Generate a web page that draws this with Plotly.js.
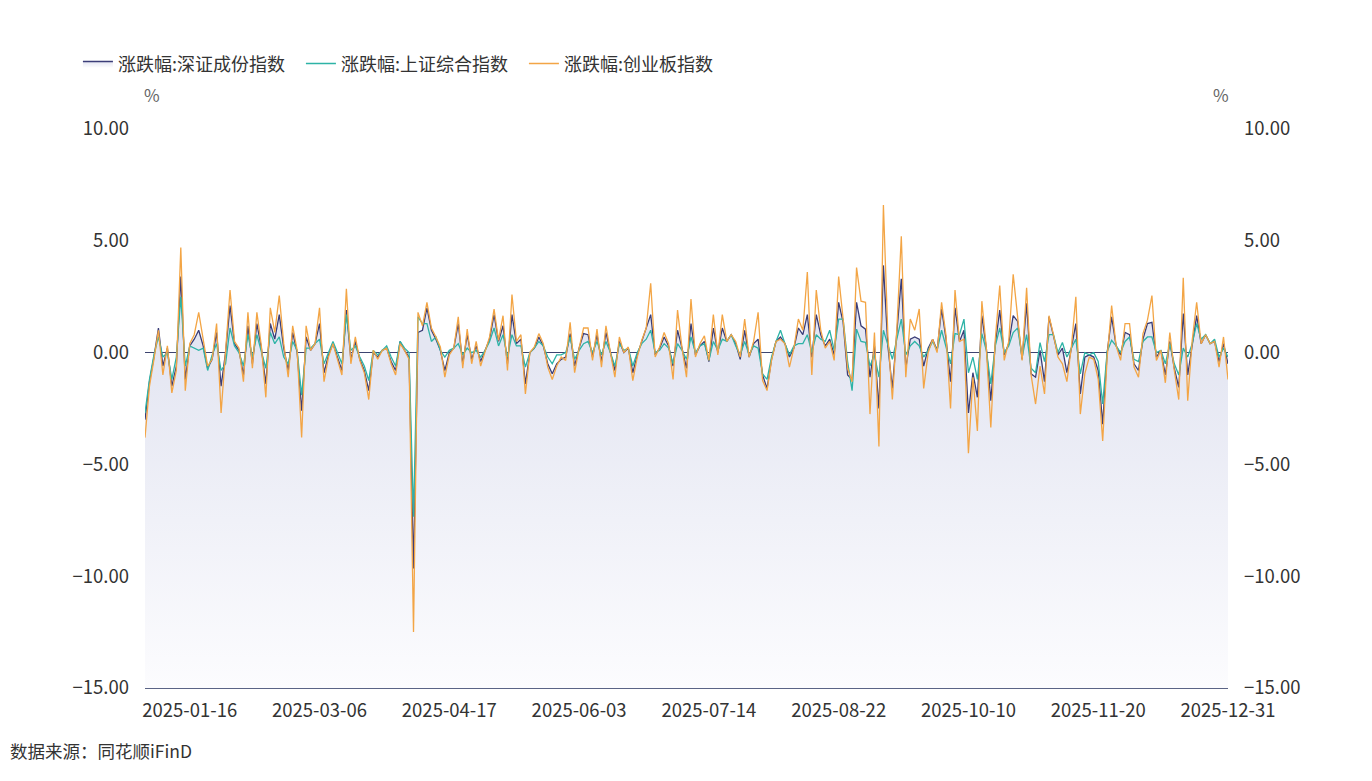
<!DOCTYPE html>
<html>
<head>
<meta charset="utf-8">
<script src="https://cdn.plot.ly/plotly-3.0.1.min.js"></script>
<style>html,body{margin:0;padding:0;background:#fff;}#chart{width:1372px;height:781px;}</style>
</head>
<body>
<div id="chart"></div>
<script>
// Non-trading weekdays of 2025 (exchange holidays)
const holidays = ['2025-01-01','2025-01-28','2025-01-29','2025-01-30','2025-01-31','2025-02-03','2025-02-04',
  '2025-04-04','2025-05-01','2025-05-02','2025-05-05','2025-06-02',
  '2025-10-01','2025-10-02','2025-10-03','2025-10-06','2025-10-07','2025-10-08'];

const tickDates = ['2025-01-16','2025-03-06','2025-04-17','2025-06-03','2025-07-14','2025-08-22','2025-10-10','2025-11-20','2025-12-31'];
const yTicks = [-15, -10, -5, 0, 5, 10];

const seriesNames = ['涨跌幅:深证成份指数', '涨跌幅:上证综合指数', '涨跌幅:创业板指数'];

// 涨跌幅:深证成份指数 (%)
const szChange = [
-3.0,-1.3,-0.2,1.1,-0.6,0.2,-1.5,-0.6,3.4,-1.2,
0.3,0.6,1.0,0.3,-0.7,-0.3,0.9,-1.5,0.0,2.1,
0.4,0.1,-1.0,1.2,-0.5,1.3,0.2,-1.4,1.3,0.6,
1.7,0.2,-0.8,0.9,0.0,-2.6,0.7,0.1,0.4,1.3,
-0.9,-0.1,0.4,-0.2,-0.8,1.9,-0.3,0.5,-0.3,-0.8,
-1.7,0.0,-0.2,0.1,0.2,-0.4,-0.8,0.5,0.1,-0.2,
-9.66,0.9,1.0,2.0,1.0,0.6,0.1,-0.8,0.0,0.2,
1.3,-0.5,0.8,-0.3,0.3,-0.4,0.1,0.6,1.7,0.5,
1.2,-0.5,1.7,0.4,0.6,-1.4,0.0,0.2,0.7,0.3,
-0.5,-0.95,-0.5,-0.3,-0.2,0.85,-0.6,0.2,0.85,0.8,
-0.2,0.8,-0.4,0.9,0.0,-0.8,0.5,0.0,0.2,-0.9,
-0.1,0.5,1.0,1.7,-0.1,0.2,0.7,0.3,-0.6,1.0,
0.2,-0.7,1.3,-0.1,0.3,0.5,-0.4,1.1,0.0,1.1,
0.5,0.8,0.4,-0.3,1.0,-0.2,0.4,0.6,-1.0,-1.6,
-0.3,0.5,0.7,0.4,-0.2,0.2,1.1,0.8,1.7,-0.2,
1.7,0.8,0.3,0.6,-0.1,2.25,1.35,-1.0,-1.2,2.25,
1.2,1.05,-1.1,0.3,-2.5,3.9,0.3,-1.6,0.9,3.3,
-0.7,0.6,0.7,0.6,-0.6,0.2,0.6,0.1,1.95,0.6,
-1.3,2.0,0.5,1.0,-2.7,-0.9,-2.0,1.65,0.2,-2.15,
0.4,1.9,-0.1,0.4,1.65,1.4,-0.3,2.2,-0.95,-1.1,
0.1,-1.3,1.6,0.8,-0.1,0.2,-0.9,0.2,1.3,-1.85,
-0.2,-0.1,-0.2,-0.8,-3.2,0.0,1.6,0.3,-0.1,0.9,
0.8,-0.5,-0.8,0.6,1.3,1.35,-0.2,0.1,-1.0,0.5,
-0.7,-1.55,1.75,-1.0,0.4,1.65,0.4,0.8,0.4,0.5,
-0.4,0.4,-0.5];

// 涨跌幅:上证综合指数 (%)
const shChange = [
-2.7,-1.2,-0.1,0.7,-0.2,0.0,-1.2,-0.2,2.5,-0.6,
0.3,0.2,0.1,0.2,-0.8,-0.1,0.4,-0.8,-0.5,1.1,
0.3,0.0,-0.6,0.8,-0.2,0.8,0.1,-0.7,0.9,0.4,
0.7,-0.2,-0.5,0.5,0.1,-1.9,0.2,0.2,0.4,0.6,
-0.5,0.0,0.5,0.0,-0.5,1.7,0.1,0.3,-0.2,-0.6,
-1.25,0.1,-0.1,0.1,0.3,-0.2,-0.6,0.5,0.2,0.0,
-7.34,1.6,1.3,1.3,0.5,0.7,0.1,-0.2,0.1,0.2,
0.4,-0.1,0.2,0.0,0.1,-0.2,0.1,0.5,1.1,0.3,
0.8,-0.2,0.8,0.3,0.3,-0.65,0.0,0.2,0.5,0.3,
-0.2,-0.5,-0.1,-0.1,0.0,0.7,-0.3,0.1,0.4,0.5,
0.0,0.5,-0.1,0.5,0.0,-0.6,0.4,0.1,0.2,-0.6,
0.0,0.4,0.6,1.0,0.0,0.1,0.4,0.2,-0.5,0.4,
0.1,-0.3,0.7,0.0,0.3,0.4,-0.35,0.5,0.1,0.6,
0.5,0.8,0.3,-0.1,0.5,-0.1,0.3,0.2,-0.95,-1.2,
-0.2,0.5,1.0,0.4,-0.1,0.3,0.4,0.4,0.8,0.0,
0.8,0.6,0.5,1.0,0.1,1.5,1.5,-0.4,-1.7,1.05,
0.5,0.46,-0.6,-0.1,-1.1,1.0,0.3,-0.3,0.6,1.5,
-0.1,0.3,0.5,0.3,-0.2,0.1,0.5,0.1,1.0,0.3,
-0.5,0.85,0.8,1.5,-0.9,-0.2,-1.2,0.85,0.1,-1.4,
0.3,1.1,0.0,0.3,0.9,1.1,-0.2,0.8,-0.7,-0.9,
0.45,-0.4,0.8,0.8,0.0,0.45,-0.2,0.2,0.6,-0.95,
0.0,-0.1,0.0,-0.4,-2.3,0.05,0.55,0.3,0.0,0.5,
0.7,-0.3,-0.4,0.5,0.7,0.7,0.0,0.1,-0.5,0.4,
-0.5,-1.0,0.2,-0.2,0.4,1.3,0.6,0.8,0.4,0.6,
-0.2,0.2,-0.2];

// 涨跌幅:创业板指数 (%)
const cyChange = [
-3.8,-1.5,-0.3,1.0,-1.0,0.3,-1.8,-0.8,4.7,-1.7,
0.4,0.8,1.8,0.5,-0.6,-0.3,1.3,-2.7,0.2,2.8,
0.5,0.2,-1.3,1.8,-0.7,1.8,0.3,-2.0,2.0,0.9,
2.55,0.4,-1.1,1.2,0.1,-3.8,1.2,0.1,0.4,2.0,
-1.3,-0.2,0.4,-0.3,-1.0,2.85,-0.5,0.7,-0.35,-0.9,
-2.1,0.1,-0.3,0.1,0.2,-0.5,-1.0,0.4,0.1,-0.3,
-12.5,1.8,1.2,2.25,1.1,0.7,0.25,-1.1,-0.1,0.2,
1.6,-0.7,1.05,-0.5,0.5,-0.6,0.1,0.7,1.95,0.55,
1.65,-0.8,2.6,0.5,0.8,-1.85,0.0,0.25,0.85,0.4,
-0.65,-1.2,-0.6,-0.2,-0.35,1.35,-0.9,0.2,1.1,1.1,
-0.35,1.05,-0.65,1.2,0.0,-1.1,0.7,0.0,0.25,-1.25,
-0.2,0.55,1.1,3.1,-0.2,0.25,0.9,0.4,-1.2,1.9,
0.2,-1.1,2.4,-0.2,0.4,0.75,-0.35,1.7,-0.1,1.7,
0.5,0.8,0.5,-0.2,1.5,-0.2,0.5,1.8,-1.25,-1.7,
-0.35,0.5,0.6,0.4,-0.65,0.2,1.5,1.0,3.6,-1.0,
2.8,1.0,0.2,0.5,-0.35,3.4,1.5,-0.7,-1.3,3.8,
2.3,2.25,-2.75,0.9,-4.2,6.6,0.75,-2.1,1.05,5.2,
-1.1,1.5,1.0,1.95,-1.6,0.0,0.6,0.0,2.25,0.75,
-2.5,2.8,0.5,0.6,-4.5,-1.1,-3.5,2.3,0.2,-3.35,
0.6,3.0,-0.35,0.5,3.5,1.5,-0.35,2.9,-1.0,-2.3,
-0.6,-1.85,1.65,0.8,-0.2,-0.5,-1.3,0.25,2.5,-2.75,
-0.95,-0.2,-0.3,-1.2,-3.95,-0.2,2.1,0.3,-0.35,1.3,
1.3,-0.65,-1.1,0.85,1.45,2.55,-0.35,0.1,-1.35,0.9,
-0.8,-2.1,3.35,-2.15,0.55,2.25,0.4,0.8,0.4,0.5,
-0.65,0.7,-1.2];

// Trading-day calendar of 2025 (weekdays that are not holidays)
function tradingDays(year){
  const out = [];
  const d = new Date(Date.UTC(year,0,1));
  while (d.getUTCFullYear() === year){
    const wd = d.getUTCDay();
    const s = d.toISOString().slice(0,10);
    if (wd !== 0 && wd !== 6 && holidays.indexOf(s) < 0) out.push(s);
    d.setUTCDate(d.getUTCDate()+1);
  }
  return out;
}
const dates = tradingDays(2025);
const yMin = yTicks[0], yMax = yTicks[yTicks.length-1];

const FONT = '"Noto Sans CJK SC", "Noto Sans", sans-serif';
const cDark = '#3b3d78', cTeal = '#2db3a6', cOrange = '#f3a545';
const TICK = 18.5;

const traces = [
  { x: dates, y: dates.map(()=>yMin), type:'scatter', mode:'lines', line:{width:0, color:'rgba(0,0,0,0)'},
    showlegend:false, hoverinfo:'skip' },
  { x: dates, y: szChange, name: seriesNames[0], type:'scatter', mode:'lines',
    line:{color:cDark, width:1.3}, fill:'tonexty',
    fillgradient:{type:'vertical', start:yMin, stop:0, colorscale:[[0,'rgba(252,252,254,1)'],[1,'rgba(228,230,242,1)']]} },
  { x: dates, y: shChange, name: seriesNames[1], type:'scatter', mode:'lines', line:{color:cTeal, width:1.3} },
  { x: dates, y: cyChange, name: seriesNames[2], type:'scatter', mode:'lines', line:{color:cOrange, width:1.3} },
  { x: [], y: [], yaxis:'y2', showlegend:false, hoverinfo:'skip', type:'scatter' }
];

const layout = {
  width:1372, height:781,
  margin:{l:145, r:144, t:129, b:93},
  paper_bgcolor:'#ffffff', plot_bgcolor:'#ffffff',
  font:{family:FONT, size:17, color:'#333333'},
  showlegend:true,
  legend:{orientation:'h', traceorder:'normal', xref:'container', yref:'container', x:0.0568, y:0.942, xanchor:'left', yanchor:'top',
    font:{family:FONT, size:18, color:'#333333'}, entrywidth:178, entrywidthmode:'pixels', bgcolor:'rgba(0,0,0,0)'},
  xaxis:{type:'category', range:[0, dates.length-1], tickmode:'array', tickvals:tickDates, ticktext:tickDates,
    showgrid:false, zeroline:false, showline:true, linecolor:'#5b6485', linewidth:1, ticks:'',
    tickfont:{family:FONT, size:TICK, color:'#333333'}, ticklabelstandoff:6},
  yaxis:{range:[yMin, yMax], tickmode:'array', tickvals:yTicks, tickformat:'.2f', showgrid:false,
    zeroline:true, zerolinecolor:'#3d4470', zerolinewidth:1, showline:false, ticks:'',
    tickfont:{family:FONT, size:TICK, color:'#333333'}, ticklabelstandoff:15},
  yaxis2:{range:[yMin, yMax], overlaying:'y', side:'right', tickmode:'array', tickvals:yTicks, tickformat:'.2f',
    showgrid:false, zeroline:false, showline:false, ticks:'',
    tickfont:{family:FONT, size:TICK, color:'#333333'}, ticklabelstandoff:15},
  annotations:[
    {text:'%', xref:'paper', yref:'paper', x:0.0065, y:1.061, showarrow:false, xanchor:'center', yanchor:'middle',
      font:{family:FONT, size:17, color:'#666666'}},
    {text:'%', xref:'paper', yref:'paper', x:0.9935, y:1.061, showarrow:false, xanchor:'center', yanchor:'middle',
      font:{family:FONT, size:17, color:'#666666'}},
    {text:'数据来源：同花顺iFinD', xref:'paper', yref:'paper', x:-0.1265, y:-0.111, showarrow:false,
      xanchor:'left', yanchor:'middle', font:{family:FONT, size:17.5, color:'#333333'}}
  ]
};

Plotly.newPlot('chart', traces, layout, {displayModeBar:false, staticPlot:true});
</script>
</body>
</html>
